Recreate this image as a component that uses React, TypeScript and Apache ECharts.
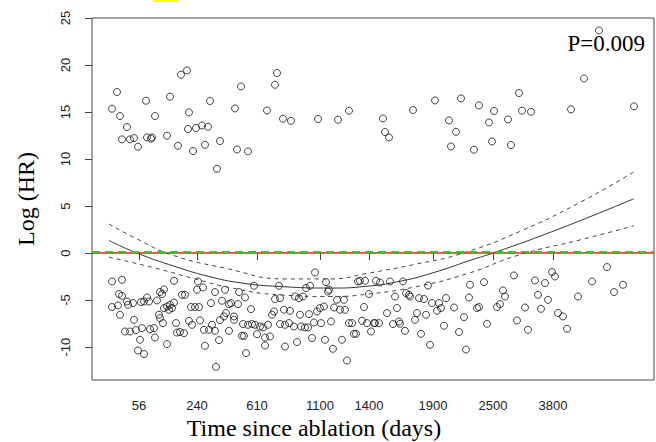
import React, { useEffect, useRef } from "react";
import * as echarts from "echarts";

// x axis: position of each observation along the (rank-scaled) time axis
const tickRanks = [47, 105, 165, 228, 277, 341, 401, 461];
const tickLabels = ["56", "240", "610", "1100", "1400", "1900", "2500", "3800"];
const yTicks = [-10, -5, 0, 5, 10, 15, 20, 25];

// [rank, log HR]
const upperCluster: number[][] = [
  [20, 15.35], [25, 17.13], [28, 14.57], [35, 13.4], [30, 12.09], [38, 12.09], [42, 12.23], [46, 11.31],
  [54, 16.2], [55, 12.3], [59, 12.16], [60, 12.3], [63, 14.57], [75, 12.48], [78, 16.63], [86, 11.41],
  [89, 18.97], [95, 19.43], [96, 13.19], [97, 14.96], [101, 10.85], [104, 13.3], [110, 13.57], [113, 11.52],
  [116, 13.44], [118, 16.17], [125, 8.97], [128, 11.91], [143, 15.38], [145, 11.02], [149, 17.72], [156, 10.81],
  [175, 15.17], [183, 17.9], [185, 19.15], [191, 14.29], [199, 14.07], [226, 14.26], [246, 14.18], [257, 15.14],
  [291, 14.32], [293, 12.87], [297, 12.3], [321, 15.21], [343, 16.23], [357, 14.11], [359, 11.34], [364, 12.9],
  [369, 16.45], [382, 10.99], [387, 15.7], [397, 13.89], [400, 11.87], [402, 15.11], [416, 14.21], [419, 11.49],
  [427, 17.02], [430, 15.14], [439, 15.03], [479, 15.28], [492, 18.57], [507, 23.68], [542, 15.6],
];

const lowerCluster: number[][] = [
  [20, -3.02], [30, -2.84], [27, -4.36], [30, -4.54], [20, -5.74], [26, -5.57], [28, -6.56], [35, -5.15],
  [36, -5.5], [41, -5.32], [42, -7.1], [33, -8.34], [38, -8.34], [44, -8.19], [50, -7.98], [48, -9.22],
  [46, -10.36], [52, -10.74], [49, -5.21], [52, -5.15], [55, -4.72], [57, -5.15], [58, -8.09], [62, -7.98],
  [63, -8.98], [65, -5.04], [68, -4.15], [72, -3.87], [70, -4.36], [67, -6.56], [68, -6.91], [71, -7.45],
  [72, -5.85], [75, -5.68], [78, -5.5], [80, -5.85], [82, -5.26], [77, -6.03], [75, -9.68], [82, -2.95],
  [84, -7.45], [85, -8.45], [88, -8.4], [92, -8.51], [90, -4.44], [93, -4.44], [97, -7.2], [100, -7.63],
  [99, -5.74], [103, -5.74], [107, -5.74], [106, -3.02], [105, -3.9], [111, -3.66], [108, -7.17], [113, -9.86],
  [112, -8.16], [117, -8.16], [120, -7.63], [119, -5.32], [123, -4.15], [124, -12.1], [127, -9.26], [123, -8.27],
  [130, -5.07], [133, -3.9], [128, -7.13], [132, -6.74], [134, -6.38], [137, -8.27], [137, -5.43], [139, -5.32],
  [142, -6.74], [142, -7.1], [146, -5.43], [147, -4.15], [153, -4.72], [151, -7.55], [156, -7.63], [150, -8.8],
  [152, -8.8], [154, -10.64], [159, -5.96], [162, -3.48], [160, -7.55], [163, -7.63], [165, -8.62], [168, -7.81],
  [171, -7.91], [173, -8.98], [173, -9.83], [178, -8.87], [176, -7.63], [180, -6.56], [182, -6.21], [183, -4.89],
  [187, -3.48], [188, -4.79], [188, -7.55], [192, -6.03], [193, -9.94],
  [198, -6.14], [193, -7.63], [197, -7.45], [202, -7.81], [205, -9.47], [203, -4.62], [207, -4.79], [211, -4.62],
  [208, -6.56], [209, -7.81], [213, -7.91], [216, -7.91], [214, -3.72], [218, -3.48], [223, -2.06], [217, -6.49],
  [220, -9.04], [222, -7.38], [225, -6.21], [228, -5.85], [232, -5.68], [229, -7.45], [233, -9.22], [234, -3.09],
  [236, -4.09], [237, -3.9], [239, -7.28], [241, -10.18], [242, -5.79], [245, -4.97], [248, -6.03], [252, -4.97],
  [253, -6.03], [250, -9.22], [255, -11.43], [257, -7.45], [260, -7.45], [262, -8.59], [264, -8.59], [266, -3.02],
  [268, -2.95], [270, -7.2], [272, -5.74], [273, -2.95], [275, -7.45], [277, -4.36], [279, -8.34], [282, -7.45],
  [283, -7.45], [287, -7.45], [284, -2.95], [288, -3.13], [295, -6.38], [298, -3.02], [301, -7.55], [303, -4.62],
  [305, -5.85], [307, -7.28], [308, -7.52], [311, -3.02], [313, -8.27], [314, -4.26], [317, -4.44], [318, -4.62],
  [323, -7.1], [325, -6.38], [327, -4.79], [332, -4.89], [329, -8.59], [334, -6.56], [336, -3.45], [338, -9.76],
  [340, -5.32], [345, -6.14], [347, -5.32], [349, -5.85], [352, -7.73], [354, -4.79], [362, -5.79], [367, -8.4],
  [372, -6.81], [374, -10.26], [377, -4.72], [378, -3.37],
  [392, -3.09], [385, -5.85], [387, -5.74], [395, -7.52], [405, -5.74], [408, -5.43], [411, -3.98], [413, -4.62],
  [422, -2.38], [425, -7.17], [433, -5.79], [436, -8.16], [443, -2.91], [446, -4.44], [449, -5.93], [453, -3.19],
  [456, -4.97], [460, -2.02], [463, -2.49], [466, -6.38], [471, -6.74], [475, -8.05], [486, -4.62], [500, -3.02],
  [515, -1.49], [522, -4.15], [531, -3.37],
];

// fitted curve and its confidence band
const fitCurve: number[][] = [
  [17, 1.34], [45, 0], [83, -1.43], [117, -2.49], [150, -3.19], [187, -3.55], [240, -3.72], [273, -3.55],
  [307, -3.02], [340, -2.13], [380, -0.71], [401, 0], [465, 2.48], [542, 5.78],
];
const upperBand: number[][] = [
  [17, 3.09], [45, 1.5], [80, -0.2], [133, -1.6], [193, -2.75], [240, -2.75], [273, -2.2], [323, -1.2],
  [371, 0], [430, 2.4], [490, 5.5], [542, 8.65],
];
const lowerBand: number[][] = [
  [17, -0.43], [67, -1.7], [100, -2.66], [140, -3.72], [187, -4.44], [240, -4.62], [273, -4.4], [323, -3.6],
  [375, -2.2], [427, -0.2], [490, 1.45], [542, 2.9],
];

const refLevel = 0;
const nullLevel = 0.15;
const pText = "P=0.009";

export default function App() {
  const ref = useRef<HTMLDivElement>(null);
  useEffect(() => {
    if (!ref.current) return;
    const chart = echarts.init(ref.current, undefined, { renderer: "svg" });
    const sans = '"Liberation Sans", Arial, Helvetica, sans-serif';
    const serif = '"Liberation Serif", "Times New Roman", serif';
    const dashed = { color: "#444", width: 1, type: [4, 4] as number[] };
    const hline = (level: number, color: string, width: number, type: any, z: number) => ({
      type: "line",
      data: [],
      color,
      z,
      markLine: {
        silent: true,
        symbol: ["none", "none"],
        label: { show: false },
        emphasis: { disabled: true },
        lineStyle: { color, width, type },
        data: [{ yAxis: level }],
      },
    });
    chart.setOption({
      animation: false,
      backgroundColor: "#ffffff",
      grid: { left: 92, right: 2, top: 18, bottom: 62, show: true, borderColor: "#444", borderWidth: 1 },
      xAxis: {
        type: "value",
        min: 0,
        max: 562,
        axisLine: { show: false },
        splitLine: { show: false },
        axisTick: { show: true, customValues: tickRanks, length: 7, lineStyle: { color: "#444" } },
        axisLabel: {
          customValues: tickRanks,
          formatter: (v: number) => tickLabels[tickRanks.indexOf(v)] ?? "",
          margin: 19,
          fontSize: 13,
          fontFamily: sans,
          color: "#222",
        },
      },
      yAxis: {
        type: "value",
        min: -13.5,
        max: 25,
        axisLine: { show: false },
        splitLine: { show: false },
        axisTick: { show: true, customValues: yTicks, length: 7, lineStyle: { color: "#444" } },
        axisLabel: {
          customValues: yTicks,
          rotate: 90,
          margin: 20,
          fontSize: 13,
          fontFamily: sans,
          color: "#222",
        },
      },
      graphic: [
        { type: "rect", shape: { x: 153, y: 0, width: 24, height: 2 }, style: { fill: "#ffff00" } },
        {
          type: "text",
          x: 26,
          y: 199,
          rotation: Math.PI / 2,
          style: {
            text: "Log (HR)",
            fontSize: 24,
            fontFamily: serif,
            fill: "#000",
            align: "center",
            verticalAlign: "middle",
            textAlign: "center",
            textVerticalAlign: "middle",
          },
        },
        {
          type: "text",
          x: 314,
          y: 428,
          style: {
            text: "Time since ablation (days)",
            fontSize: 24,
            fontFamily: serif,
            fill: "#000",
            align: "center",
            verticalAlign: "middle",
            textAlign: "center",
            textVerticalAlign: "middle",
          },
        },
        {
          type: "text",
          x: 645,
          y: 43,
          z: 100,
          style: {
            text: pText,
            fontSize: 23,
            fontFamily: serif,
            fill: "#000",
            align: "right",
            verticalAlign: "middle",
            textAlign: "right",
            textVerticalAlign: "middle",
          },
        },
      ],
      series: [
        {
          type: "scatter",
          data: upperCluster,
          symbol: "circle",
          symbolSize: 7,
          itemStyle: { color: "rgba(0,0,0,0)", borderColor: "#111", borderWidth: 1 },
          z: 3,
        },
        {
          type: "scatter",
          data: lowerCluster,
          symbol: "circle",
          symbolSize: 7,
          itemStyle: { color: "rgba(0,0,0,0)", borderColor: "#111", borderWidth: 1 },
          z: 3,
        },
        hline(refLevel, "#ff1a1a", 1.5, "solid", 2),
        hline(nullLevel, "#22cc22", 2.2, [8, 5], 2),
        {
          type: "line",
          data: fitCurve,
          smooth: true,
          showSymbol: false,
          lineStyle: { color: "#333", width: 1 },
          z: 4,
        },
        { type: "line", data: upperBand, smooth: true, showSymbol: false, lineStyle: dashed, z: 4 },
        { type: "line", data: lowerBand, smooth: true, showSymbol: false, lineStyle: dashed, z: 4 },
      ],
    });
    return () => chart.dispose();
  }, []);
  return (
    <div
      ref={ref}
      style={{ position: "fixed", left: 0, top: 0, width: 656, height: 442, background: "#fff" }}
    />
  );
}
